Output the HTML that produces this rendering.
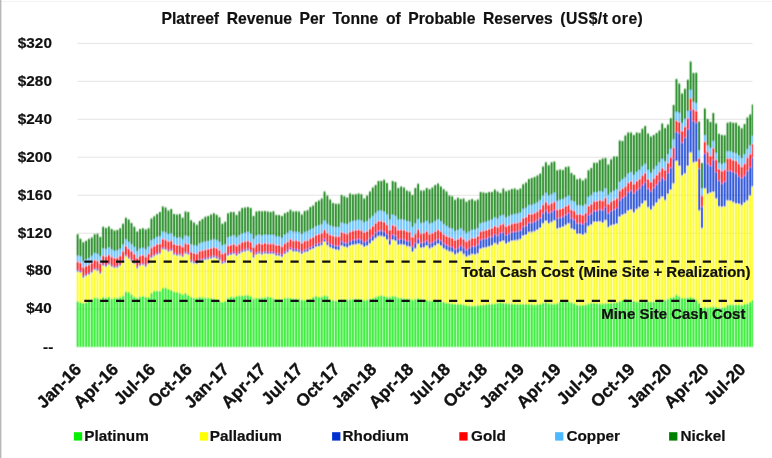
<!DOCTYPE html>
<html lang="en"><head><meta charset="utf-8"><title>Platreef Revenue Per Tonne of Probable Reserves</title>
<style>
html,body{margin:0;padding:0;background:#fff}
body{width:772px;height:458px;overflow:hidden;position:relative}
svg{position:absolute;left:0;top:0;display:block}
text{font-family:"Liberation Sans",sans-serif;font-weight:700;fill:#111;stroke:#111;stroke-width:.2px}
.ax text{font-size:15.3px}
.xl text{font-size:17.3px;stroke:#111;stroke-width:.35px}
.lg text{font-size:15.3px}
.lb text{font-size:15px}
.grid line{stroke:#e4e4e4;stroke-width:1}
</style></head><body>
<svg width="772" height="458" viewBox="0 0 772 458">
<defs><filter id="b" x="-2%" y="-2%" width="104%" height="104%"><feConvolveMatrix order="3" kernelMatrix="1 4 1 2 8 2 1 4 1" edgeMode="duplicate" preserveAlpha="false"/></filter></defs>
<rect x="0" y="0" width="772" height="458" fill="#fff"/>
<rect x="0" y="1" width="772" height="1" fill="#f3f3f3"/><rect x="0" y="0" width="1.4" height="458" fill="#b8b8b8"/>
<text x="402.4" y="24.3" text-anchor="middle" font-size="15.7" word-spacing="3.2">Platreef Revenue Per Tonne of Probable Reserves <tspan word-spacing="-1.3" letter-spacing="0.45">(US$/t ore)</tspan></text>
<g class="grid"><line x1="77.5" x2="752.6" y1="43.4" y2="43.4"/><line x1="77.5" x2="752.6" y1="81.3" y2="81.3"/><line x1="77.5" x2="752.6" y1="119.3" y2="119.3"/><line x1="77.5" x2="752.6" y1="157.2" y2="157.2"/><line x1="77.5" x2="752.6" y1="195.2" y2="195.2"/><line x1="77.5" x2="752.6" y1="233.2" y2="233.2"/><line x1="77.5" x2="752.6" y1="271.1" y2="271.1"/><line x1="77.5" x2="752.6" y1="309.1" y2="309.1"/></g>
<g class="ax"><text text-anchor="end" x="51.9" y="47.7">$320</text><text text-anchor="end" x="51.9" y="85.6">$280</text><text text-anchor="end" x="51.9" y="123.6">$240</text><text text-anchor="end" x="51.9" y="161.6">$200</text><text text-anchor="end" x="51.9" y="199.5">$160</text><text text-anchor="end" x="51.9" y="237.5">$120</text><text text-anchor="end" x="51.9" y="275.4">$80</text><text text-anchor="end" x="51.9" y="313.4">$40</text><text text-anchor="end" x="53.3" y="352.3">--</text></g>
<g class="bars" filter="url(#b)"><path fill="#0AEA0A" d="M76.77 301.3h1.70V347h-1.70zM79.61 302.2h1.70V347h-1.70zM82.45 303.1h1.70V347h-1.70zM85.28 302.2h1.70V347h-1.70zM88.12 300.8h1.70V347h-1.70zM90.96 299.6h1.70V347h-1.70zM93.80 297.5h1.70V347h-1.70zM96.64 297.8h1.70V347h-1.70zM99.47 299.1h1.70V347h-1.70zM102.31 297h1.70V347h-1.70zM105.15 297.5h1.70V347h-1.70zM107.99 297h1.70V347h-1.70zM110.83 298.4h1.70V347h-1.70zM113.66 297.8h1.70V347h-1.70zM116.50 297.8h1.70V347h-1.70zM119.34 297h1.70V347h-1.70zM122.18 295.6h1.70V347h-1.70zM125.02 291.4h1.70V347h-1.70zM127.85 292.1h1.70V347h-1.70zM130.69 294.3h1.70V347h-1.70zM133.53 296.6h1.70V347h-1.70zM136.37 297.8h1.70V347h-1.70zM139.20 296.6h1.70V347h-1.70zM142.04 296.1h1.70V347h-1.70zM144.88 297h1.70V347h-1.70zM147.72 297h1.70V347h-1.70zM150.56 293.1h1.70V347h-1.70zM153.40 290.8h1.70V347h-1.70zM156.23 290.8h1.70V347h-1.70zM159.07 290.8h1.70V347h-1.70zM161.91 287.9h1.70V347h-1.70zM164.75 287.5h1.70V347h-1.70zM167.59 289.1h1.70V347h-1.70zM170.42 290h1.70V347h-1.70zM173.26 291.4h1.70V347h-1.70zM176.10 292.1h1.70V347h-1.70zM178.94 293.1h1.70V347h-1.70zM181.78 294.3h1.70V347h-1.70zM184.61 293.1h1.70V347h-1.70zM187.45 294.9h1.70V347h-1.70zM190.29 297h1.70V347h-1.70zM193.13 297.8h1.70V347h-1.70zM195.97 297.8h1.70V347h-1.70zM198.80 297h1.70V347h-1.70zM201.64 297.3h1.70V347h-1.70zM204.48 297.6h1.70V347h-1.70zM207.32 297.8h1.70V347h-1.70zM210.16 298.1h1.70V347h-1.70zM212.99 298.4h1.70V347h-1.70zM215.83 299.6h1.70V347h-1.70zM218.67 300.8h1.70V347h-1.70zM221.51 301.9h1.70V347h-1.70zM224.34 300.8h1.70V347h-1.70zM227.18 297.8h1.70V347h-1.70zM230.02 296.6h1.70V347h-1.70zM232.86 297h1.70V347h-1.70zM235.70 296.1h1.70V347h-1.70zM238.53 295.6h1.70V347h-1.70zM241.37 295.4h1.70V347h-1.70zM244.21 295.2h1.70V347h-1.70zM247.05 294.9h1.70V347h-1.70zM249.89 296.1h1.70V347h-1.70zM252.72 298.4h1.70V347h-1.70zM255.56 297.8h1.70V347h-1.70zM258.40 297.8h1.70V347h-1.70zM261.24 297.6h1.70V347h-1.70zM264.08 297.3h1.70V347h-1.70zM266.92 296.6h1.70V347h-1.70zM269.75 297h1.70V347h-1.70zM272.59 298.4h1.70V347h-1.70zM275.43 299.1h1.70V347h-1.70zM278.27 299.1h1.70V347h-1.70zM281.11 299.1h1.70V347h-1.70zM283.94 297.8h1.70V347h-1.70zM286.78 297.8h1.70V347h-1.70zM289.62 298.1h1.70V347h-1.70zM292.46 298.4h1.70V347h-1.70zM295.30 298.5h1.70V347h-1.70zM298.13 298.7h1.70V347h-1.70zM300.97 299.4h1.70V347h-1.70zM303.81 300.1h1.70V347h-1.70zM306.65 299.6h1.70V347h-1.70zM309.49 298.7h1.70V347h-1.70zM312.32 297h1.70V347h-1.70zM315.16 296.1h1.70V347h-1.70zM318.00 297h1.70V347h-1.70zM320.84 296.6h1.70V347h-1.70zM323.68 295.2h1.70V347h-1.70zM326.51 296.1h1.70V347h-1.70zM329.35 299.5h1.70V347h-1.70zM332.19 300.1h1.70V347h-1.70zM335.03 300.6h1.70V347h-1.70zM337.87 300.1h1.70V347h-1.70zM340.70 299.5h1.70V347h-1.70zM343.54 299.5h1.70V347h-1.70zM346.38 299.5h1.70V347h-1.70zM349.22 299.2h1.70V347h-1.70zM352.06 298.8h1.70V347h-1.70zM354.89 298.8h1.70V347h-1.70zM357.73 298.8h1.70V347h-1.70zM360.57 299.5h1.70V347h-1.70zM363.41 300.1h1.70V347h-1.70zM366.25 299.5h1.70V347h-1.70zM369.08 298.8h1.70V347h-1.70zM371.92 298h1.70V347h-1.70zM374.76 297.1h1.70V347h-1.70zM377.60 295.7h1.70V347h-1.70zM380.44 295.3h1.70V347h-1.70zM383.27 296h1.70V347h-1.70zM386.11 296.6h1.70V347h-1.70zM388.95 297.1h1.70V347h-1.70zM391.79 295.7h1.70V347h-1.70zM394.62 296.2h1.70V347h-1.70zM397.46 297.4h1.70V347h-1.70zM400.30 297.9h1.70V347h-1.70zM403.14 298.3h1.70V347h-1.70zM405.98 298.6h1.70V347h-1.70zM408.81 298.8h1.70V347h-1.70zM411.65 299.5h1.70V347h-1.70zM414.49 298.8h1.70V347h-1.70zM417.33 298.3h1.70V347h-1.70zM420.17 298.9h1.70V347h-1.70zM423.00 299.5h1.70V347h-1.70zM425.84 300.1h1.70V347h-1.70zM428.68 300.6h1.70V347h-1.70zM431.52 300.6h1.70V347h-1.70zM434.36 300.6h1.70V347h-1.70zM437.19 300.9h1.70V347h-1.70zM440.03 301.3h1.70V347h-1.70zM442.87 302h1.70V347h-1.70zM445.71 302.7h1.70V347h-1.70zM448.55 303.1h1.70V347h-1.70zM451.38 303.6h1.70V347h-1.70zM454.22 303.8h1.70V347h-1.70zM457.06 304.1h1.70V347h-1.70zM459.90 304.1h1.70V347h-1.70zM462.74 304.5h1.70V347h-1.70zM465.57 304.9h1.70V347h-1.70zM468.41 305.4h1.70V347h-1.70zM471.25 305.8h1.70V347h-1.70zM474.09 305.5h1.70V347h-1.70zM476.93 305.3h1.70V347h-1.70zM479.77 304.9h1.70V347h-1.70zM482.60 304.6h1.70V347h-1.70zM485.44 304.3h1.70V347h-1.70zM488.28 304.1h1.70V347h-1.70zM491.12 303.8h1.70V347h-1.70zM493.96 303.5h1.70V347h-1.70zM496.79 302.8h1.70V347h-1.70zM499.63 302.3h1.70V347h-1.70zM502.47 302.7h1.70V347h-1.70zM505.31 303.2h1.70V347h-1.70zM508.15 303.4h1.70V347h-1.70zM510.98 303.5h1.70V347h-1.70zM513.82 303.8h1.70V347h-1.70zM516.66 304.1h1.70V347h-1.70zM519.50 304.1h1.70V347h-1.70zM522.34 304.1h1.70V347h-1.70zM525.17 304.1h1.70V347h-1.70zM528.01 304.1h1.70V347h-1.70zM530.85 304.3h1.70V347h-1.70zM533.69 304.6h1.70V347h-1.70zM536.52 304.3h1.70V347h-1.70zM539.36 304.1h1.70V347h-1.70zM542.20 302.8h1.70V347h-1.70zM545.04 302.3h1.70V347h-1.70zM547.88 303.2h1.70V347h-1.70zM550.72 303.5h1.70V347h-1.70zM553.55 304.1h1.70V347h-1.70zM556.39 303.2h1.70V347h-1.70zM559.23 301.4h1.70V347h-1.70zM562.07 301.1h1.70V347h-1.70zM564.90 301.1h1.70V347h-1.70zM567.74 301.4h1.70V347h-1.70zM570.58 302.3h1.70V347h-1.70zM573.42 303.2h1.70V347h-1.70zM576.26 304.6h1.70V347h-1.70zM579.10 305.3h1.70V347h-1.70zM581.93 304.9h1.70V347h-1.70zM584.77 304.6h1.70V347h-1.70zM587.61 303.5h1.70V347h-1.70zM590.45 302.8h1.70V347h-1.70zM593.28 303h1.70V347h-1.70zM596.12 303.2h1.70V347h-1.70zM598.96 303.4h1.70V347h-1.70zM601.80 303.6h1.70V347h-1.70zM604.64 303.3h1.70V347h-1.70zM607.48 303.1h1.70V347h-1.70zM610.31 302.8h1.70V347h-1.70zM613.15 302.6h1.70V347h-1.70zM615.99 302.3h1.70V347h-1.70zM618.83 301.2h1.70V347h-1.70zM621.66 300h1.70V347h-1.70zM624.50 298.8h1.70V347h-1.70zM627.34 299.5h1.70V347h-1.70zM630.18 300.2h1.70V347h-1.70zM633.02 300.8h1.70V347h-1.70zM635.86 301.5h1.70V347h-1.70zM638.69 301.4h1.70V347h-1.70zM641.53 301.2h1.70V347h-1.70zM644.37 301.1h1.70V347h-1.70zM647.21 301.2h1.70V347h-1.70zM650.05 301.4h1.70V347h-1.70zM652.88 301.5h1.70V347h-1.70zM655.72 301.3h1.70V347h-1.70zM658.56 301.1h1.70V347h-1.70zM661.40 300.4h1.70V347h-1.70zM664.24 299.7h1.70V347h-1.70zM667.07 298.7h1.70V347h-1.70zM669.91 297.6h1.70V347h-1.70zM672.75 297.1h1.70V347h-1.70zM675.59 294.5h1.70V347h-1.70zM678.43 296.2h1.70V347h-1.70zM681.26 298h1.70V347h-1.70zM684.10 298h1.70V347h-1.70zM686.94 297.5h1.70V347h-1.70zM689.78 297h1.70V347h-1.70zM692.62 298h1.70V347h-1.70zM695.45 299.5h1.70V347h-1.70zM698.29 303h1.70V347h-1.70zM701.13 307.5h1.70V347h-1.70zM703.97 307h1.70V347h-1.70zM706.81 307.5h1.70V347h-1.70zM709.64 307h1.70V347h-1.70zM712.48 306.5h1.70V347h-1.70zM715.32 307h1.70V347h-1.70zM718.16 307.5h1.70V347h-1.70zM721.00 307.5h1.70V347h-1.70zM723.83 307h1.70V347h-1.70zM726.67 305h1.70V347h-1.70zM729.51 304.5h1.70V347h-1.70zM732.35 304.5h1.70V347h-1.70zM735.19 304.5h1.70V347h-1.70zM738.02 304.5h1.70V347h-1.70zM740.86 305h1.70V347h-1.70zM743.70 304h1.70V347h-1.70zM746.54 303.5h1.70V347h-1.70zM749.38 302h1.70V347h-1.70zM751.79 300h1.15V347h-1.15z"/>
<path fill="#FCFC00" d="M76.77 271.6h1.70V301.3h-1.70zM79.61 272.5h1.70V302.2h-1.70zM82.45 277.4h1.70V303.1h-1.70zM85.28 276h1.70V302.2h-1.70zM88.12 274.6h1.70V300.8h-1.70zM90.96 272.5h1.70V299.6h-1.70zM93.80 269.9h1.70V297.5h-1.70zM96.64 270.7h1.70V297.8h-1.70zM99.47 273.4h1.70V299.1h-1.70zM102.31 265.5h1.70V297h-1.70zM105.15 266.4h1.70V297.5h-1.70zM107.99 264.5h1.70V297h-1.70zM110.83 266.7h1.70V298.4h-1.70zM113.66 268.1h1.70V297.8h-1.70zM116.50 267.6h1.70V297.8h-1.70zM119.34 265.8h1.70V297h-1.70zM122.18 261.4h1.70V295.6h-1.70zM125.02 256.2h1.70V291.4h-1.70zM127.85 258.8h1.70V292.1h-1.70zM130.69 261.2h1.70V294.3h-1.70zM133.53 264h1.70V296.6h-1.70zM136.37 268.3h1.70V297.8h-1.70zM139.20 265.8h1.70V296.6h-1.70zM142.04 265.1h1.70V296.1h-1.70zM144.88 266.7h1.70V297h-1.70zM147.72 264h1.70V297h-1.70zM150.56 257.9h1.70V293.1h-1.70zM153.40 256.3h1.70V290.8h-1.70zM156.23 254.5h1.70V290.8h-1.70zM159.07 253.8h1.70V290.8h-1.70zM161.91 249.2h1.70V287.9h-1.70zM164.75 250.1h1.70V287.5h-1.70zM167.59 251.8h1.70V289.1h-1.70zM170.42 251h1.70V290h-1.70zM173.26 254.5h1.70V291.4h-1.70zM176.10 255.6h1.70V292.1h-1.70zM178.94 255.3h1.70V293.1h-1.70zM181.78 257h1.70V294.3h-1.70zM184.61 253.6h1.70V293.1h-1.70zM187.45 254.4h1.70V294.9h-1.70zM190.29 262.3h1.70V297h-1.70zM193.13 263.3h1.70V297.8h-1.70zM195.97 264h1.70V297.8h-1.70zM198.80 261.5h1.70V297h-1.70zM201.64 260.5h1.70V297.3h-1.70zM204.48 259.8h1.70V297.6h-1.70zM207.32 259.3h1.70V297.8h-1.70zM210.16 258.4h1.70V298.1h-1.70zM212.99 257.6h1.70V298.4h-1.70zM215.83 258.4h1.70V299.6h-1.70zM218.67 260.2h1.70V300.8h-1.70zM221.51 263.7h1.70V301.9h-1.70zM224.34 262.8h1.70V300.8h-1.70zM227.18 255.8h1.70V297.8h-1.70zM230.02 254.9h1.70V296.6h-1.70zM232.86 254.1h1.70V297h-1.70zM235.70 255.8h1.70V296.1h-1.70zM238.53 254.1h1.70V295.6h-1.70zM241.37 252.3h1.70V295.4h-1.70zM244.21 251.4h1.70V295.2h-1.70zM247.05 250.6h1.70V294.9h-1.70zM249.89 252.3h1.70V296.1h-1.70zM252.72 257.6h1.70V298.4h-1.70zM255.56 254.6h1.70V297.8h-1.70zM258.40 253.5h1.70V297.8h-1.70zM261.24 254.6h1.70V297.6h-1.70zM264.08 253.5h1.70V297.3h-1.70zM266.92 254.1h1.70V296.6h-1.70zM269.75 254.1h1.70V297h-1.70zM272.59 254.1h1.70V298.4h-1.70zM275.43 255.8h1.70V299.1h-1.70zM278.27 255.8h1.70V299.1h-1.70zM281.11 257h1.70V299.1h-1.70zM283.94 254.1h1.70V297.8h-1.70zM286.78 252.3h1.70V297.8h-1.70zM289.62 250h1.70V298.1h-1.70zM292.46 251.4h1.70V298.4h-1.70zM295.30 251.4h1.70V298.5h-1.70zM298.13 252.3h1.70V298.7h-1.70zM300.97 254.1h1.70V299.4h-1.70zM303.81 252.3h1.70V300.1h-1.70zM306.65 251.8h1.70V299.6h-1.70zM309.49 250h1.70V298.7h-1.70zM312.32 248.8h1.70V297h-1.70zM315.16 247.1h1.70V296.1h-1.70zM318.00 246.2h1.70V297h-1.70zM320.84 245.3h1.70V296.6h-1.70zM323.68 241.8h1.70V295.2h-1.70zM326.51 245.3h1.70V296.1h-1.70zM329.35 247.6h1.70V299.5h-1.70zM332.19 248.8h1.70V300.1h-1.70zM335.03 249.8h1.70V300.6h-1.70zM337.87 250.2h1.70V300.1h-1.70zM340.70 245.8h1.70V299.5h-1.70zM343.54 247h1.70V299.5h-1.70zM346.38 247.6h1.70V299.5h-1.70zM349.22 245.8h1.70V299.2h-1.70zM352.06 244.9h1.70V298.8h-1.70zM354.89 244.6h1.70V298.8h-1.70zM357.73 244.1h1.70V298.8h-1.70zM360.57 244.9h1.70V299.5h-1.70zM363.41 247h1.70V300.1h-1.70zM366.25 245.8h1.70V299.5h-1.70zM369.08 243.5h1.70V298.8h-1.70zM371.92 241.1h1.70V298h-1.70zM374.76 238.3h1.70V297.1h-1.70zM377.60 236.2h1.70V295.7h-1.70zM380.44 236.2h1.70V295.3h-1.70zM383.27 237.1h1.70V296h-1.70zM386.11 239.7h1.70V296.6h-1.70zM388.95 244.9h1.70V297.1h-1.70zM391.79 240h1.70V295.7h-1.70zM394.62 241.1h1.70V296.2h-1.70zM397.46 244.9h1.70V297.4h-1.70zM400.30 244.6h1.70V297.9h-1.70zM403.14 244.9h1.70V298.3h-1.70zM405.98 246.3h1.70V298.6h-1.70zM408.81 246.7h1.70V298.8h-1.70zM411.65 251.9h1.70V299.5h-1.70zM414.49 248.4h1.70V298.8h-1.70zM417.33 244.1h1.70V298.3h-1.70zM420.17 248.1h1.70V298.9h-1.70zM423.00 247.6h1.70V299.5h-1.70zM425.84 245.8h1.70V300.1h-1.70zM428.68 248.4h1.70V300.6h-1.70zM431.52 247.6h1.70V300.6h-1.70zM434.36 245.8h1.70V300.6h-1.70zM437.19 244.1h1.70V300.9h-1.70zM440.03 245.8h1.70V301.3h-1.70zM442.87 248.4h1.70V302h-1.70zM445.71 250.2h1.70V302.7h-1.70zM448.55 251.6h1.70V303.1h-1.70zM451.38 252.3h1.70V303.6h-1.70zM454.22 254.5h1.70V303.8h-1.70zM457.06 253.3h1.70V304.1h-1.70zM459.90 251.6h1.70V304.1h-1.70zM462.74 254.2h1.70V304.5h-1.70zM465.57 256.9h1.70V304.9h-1.70zM468.41 255.6h1.70V305.4h-1.70zM471.25 254.2h1.70V305.8h-1.70zM474.09 254.6h1.70V305.5h-1.70zM476.93 253.4h1.70V305.3h-1.70zM479.77 249h1.70V304.9h-1.70zM482.60 248.1h1.70V304.6h-1.70zM485.44 247.6h1.70V304.3h-1.70zM488.28 246.4h1.70V304.1h-1.70zM491.12 245.5h1.70V303.8h-1.70zM493.96 243.3h1.70V303.5h-1.70zM496.79 244.5h1.70V302.8h-1.70zM499.63 241.9h1.70V302.3h-1.70zM502.47 241h1.70V302.7h-1.70zM505.31 243.7h1.70V303.2h-1.70zM508.15 242.3h1.70V303.4h-1.70zM510.98 241h1.70V303.5h-1.70zM513.82 240.5h1.70V303.8h-1.70zM516.66 240.2h1.70V304.1h-1.70zM519.50 239.3h1.70V304.1h-1.70zM522.34 235.8h1.70V304.1h-1.70zM525.17 234.9h1.70V304.1h-1.70zM528.01 232.3h1.70V304.1h-1.70zM530.85 232.3h1.70V304.3h-1.70zM533.69 231.4h1.70V304.6h-1.70zM536.52 230h1.70V304.3h-1.70zM539.36 227.9h1.70V304.1h-1.70zM542.20 223.6h1.70V302.8h-1.70zM545.04 220.9h1.70V302.3h-1.70zM547.88 223.6h1.70V303.2h-1.70zM550.72 222.3h1.70V303.5h-1.70zM553.55 220.6h1.70V304.1h-1.70zM556.39 228.8h1.70V303.2h-1.70zM559.23 227.9h1.70V301.4h-1.70zM562.07 227.1h1.70V301.1h-1.70zM564.90 225.3h1.70V301.1h-1.70zM567.74 223.6h1.70V301.4h-1.70zM570.58 228.8h1.70V302.3h-1.70zM573.42 230h1.70V303.2h-1.70zM576.26 234.1h1.70V304.6h-1.70zM579.10 234.1h1.70V305.3h-1.70zM581.93 234.9h1.70V304.9h-1.70zM584.77 233.2h1.70V304.6h-1.70zM587.61 226.2h1.70V303.5h-1.70zM590.45 224.7h1.70V302.8h-1.70zM593.28 222.1h1.70V303h-1.70zM596.12 222.1h1.70V303.2h-1.70zM598.96 221.5h1.70V303.4h-1.70zM601.80 222.9h1.70V303.6h-1.70zM604.64 220.3h1.70V303.3h-1.70zM607.48 227.3h1.70V303.1h-1.70zM610.31 225.6h1.70V302.8h-1.70zM613.15 224.7h1.70V302.6h-1.70zM615.99 223.8h1.70V302.3h-1.70zM618.83 216.8h1.70V301.2h-1.70zM621.66 215.1h1.70V300h-1.70zM624.50 213.8h1.70V298.8h-1.70zM627.34 210.7h1.70V299.5h-1.70zM630.18 209.8h1.70V300.2h-1.70zM633.02 212.4h1.70V300.8h-1.70zM635.86 209.3h1.70V301.5h-1.70zM638.69 207.2h1.70V301.4h-1.70zM641.53 203.7h1.70V301.2h-1.70zM644.37 201.1h1.70V301.1h-1.70zM647.21 207.2h1.70V301.2h-1.70zM650.05 209.8h1.70V301.4h-1.70zM652.88 206.3h1.70V301.5h-1.70zM655.72 202.8h1.70V301.3h-1.70zM658.56 199.3h1.70V301.1h-1.70zM661.40 196.7h1.70V300.4h-1.70zM664.24 200.2h1.70V299.7h-1.70zM667.07 194.1h1.70V298.7h-1.70zM669.91 189.7h1.70V297.6h-1.70zM672.75 183.6h1.70V297.1h-1.70zM675.59 160.9h1.70V294.5h-1.70zM678.43 166.1h1.70V296.2h-1.70zM681.26 175.5h1.70V298h-1.70zM684.10 173.4h1.70V298h-1.70zM686.94 165.9h1.70V297.5h-1.70zM689.78 152.6h1.70V297h-1.70zM692.62 162.6h1.70V298h-1.70zM695.45 161.7h1.70V299.5h-1.70zM698.29 210.6h1.70V303h-1.70zM701.13 228.2h1.70V307.5h-1.70zM703.97 188.5h1.70V307h-1.70zM706.81 193.9h1.70V307.5h-1.70zM709.64 192.7h1.70V307h-1.70zM712.48 192.1h1.70V306.5h-1.70zM715.32 198.5h1.70V307h-1.70zM718.16 206.4h1.70V307.5h-1.70zM721.00 207h1.70V307.5h-1.70zM723.83 206.4h1.70V307h-1.70zM726.67 200.4h1.70V305h-1.70zM729.51 201h1.70V304.5h-1.70zM732.35 202.2h1.70V304.5h-1.70zM735.19 203.4h1.70V304.5h-1.70zM738.02 204h1.70V304.5h-1.70zM740.86 205.2h1.70V305h-1.70zM743.70 202.8h1.70V304h-1.70zM746.54 200.4h1.70V303.5h-1.70zM749.38 195.6h1.70V302h-1.70zM751.79 186.6h1.15V300h-1.15z"/>
<path fill="#0030D0" d="M76.77 270.1h1.70V271.6h-1.70zM79.61 271h1.70V272.5h-1.70zM82.45 275.9h1.70V277.4h-1.70zM85.28 274.5h1.70V276h-1.70zM88.12 273.1h1.70V274.6h-1.70zM90.96 271h1.70V272.5h-1.70zM93.80 268.4h1.70V269.9h-1.70zM96.64 269.2h1.70V270.7h-1.70zM99.47 271.9h1.70V273.4h-1.70zM102.31 264h1.70V265.5h-1.70zM105.15 264.9h1.70V266.4h-1.70zM107.99 263h1.70V264.5h-1.70zM110.83 265.2h1.70V266.7h-1.70zM113.66 266.6h1.70V268.1h-1.70zM116.50 266.1h1.70V267.6h-1.70zM119.34 264.3h1.70V265.8h-1.70zM122.18 259.9h1.70V261.4h-1.70zM125.02 254.7h1.70V256.2h-1.70zM127.85 257.3h1.70V258.8h-1.70zM130.69 259.7h1.70V261.2h-1.70zM133.53 262.5h1.70V264h-1.70zM136.37 266.8h1.70V268.3h-1.70zM139.20 264.3h1.70V265.8h-1.70zM142.04 263.6h1.70V265.1h-1.70zM144.88 265.2h1.70V266.7h-1.70zM147.72 262.5h1.70V264h-1.70zM150.56 256.3h1.70V257.9h-1.70zM153.40 254.7h1.70V256.3h-1.70zM156.23 252.9h1.70V254.5h-1.70zM159.07 252.2h1.70V253.8h-1.70zM161.91 247.6h1.70V249.2h-1.70zM164.75 248.5h1.70V250.1h-1.70zM167.59 250.2h1.70V251.8h-1.70zM170.42 249.3h1.70V251h-1.70zM173.26 252.8h1.70V254.5h-1.70zM176.10 253.9h1.70V255.6h-1.70zM178.94 253.6h1.70V255.3h-1.70zM181.78 255.3h1.70V257h-1.70zM184.61 251.9h1.70V253.6h-1.70zM187.45 252.7h1.70V254.4h-1.70zM190.29 260.6h1.70V262.3h-1.70zM193.13 261.5h1.70V263.3h-1.70zM195.97 262.3h1.70V264h-1.70zM198.80 259.7h1.70V261.5h-1.70zM201.64 258.7h1.70V260.5h-1.70zM204.48 258h1.70V259.8h-1.70zM207.32 257.5h1.70V259.3h-1.70zM210.16 256.6h1.70V258.4h-1.70zM212.99 255.7h1.70V257.6h-1.70zM215.83 256.6h1.70V258.4h-1.70zM218.67 258.3h1.70V260.2h-1.70zM221.51 261.8h1.70V263.7h-1.70zM224.34 260.9h1.70V262.8h-1.70zM227.18 253.9h1.70V255.8h-1.70zM230.02 253h1.70V254.9h-1.70zM232.86 252.1h1.70V254.1h-1.70zM235.70 253.9h1.70V255.8h-1.70zM238.53 252.1h1.70V254.1h-1.70zM241.37 250.3h1.70V252.3h-1.70zM244.21 249.4h1.70V251.4h-1.70zM247.05 248.6h1.70V250.6h-1.70zM249.89 250.3h1.70V252.3h-1.70zM252.72 255.5h1.70V257.6h-1.70zM255.56 252.5h1.70V254.6h-1.70zM258.40 251.5h1.70V253.5h-1.70zM261.24 252.5h1.70V254.6h-1.70zM264.08 251.4h1.70V253.5h-1.70zM266.92 251.9h1.70V254.1h-1.70zM269.75 251.9h1.70V254.1h-1.70zM272.59 251.9h1.70V254.1h-1.70zM275.43 253.6h1.70V255.8h-1.70zM278.27 253.6h1.70V255.8h-1.70zM281.11 254.8h1.70V257h-1.70zM283.94 251.8h1.70V254.1h-1.70zM286.78 250h1.70V252.3h-1.70zM289.62 247.7h1.70V250h-1.70zM292.46 249.1h1.70V251.4h-1.70zM295.30 249h1.70V251.4h-1.70zM298.13 249.8h1.70V252.3h-1.70zM300.97 251.5h1.70V254.1h-1.70zM303.81 249.7h1.70V252.3h-1.70zM306.65 249.1h1.70V251.8h-1.70zM309.49 247.3h1.70V250h-1.70zM312.32 246h1.70V248.8h-1.70zM315.16 244.2h1.70V247.1h-1.70zM318.00 243.3h1.70V246.2h-1.70zM320.84 242.4h1.70V245.3h-1.70zM323.68 238.8h1.70V241.8h-1.70zM326.51 242h1.70V245.3h-1.70zM329.35 244h1.70V247.6h-1.70zM332.19 244.9h1.70V248.8h-1.70zM335.03 245.7h1.70V249.8h-1.70zM337.87 245.8h1.70V250.2h-1.70zM340.70 241.3h1.70V245.8h-1.70zM343.54 242.5h1.70V247h-1.70zM346.38 242.9h1.70V247.6h-1.70zM349.22 241.1h1.70V245.8h-1.70zM352.06 240.1h1.70V244.9h-1.70zM354.89 239.7h1.70V244.6h-1.70zM357.73 239.1h1.70V244.1h-1.70zM360.57 239.9h1.70V244.9h-1.70zM363.41 241.9h1.70V247h-1.70zM366.25 240.6h1.70V245.8h-1.70zM369.08 238.3h1.70V243.5h-1.70zM371.92 235.7h1.70V241.1h-1.70zM374.76 232.8h1.70V238.3h-1.70zM377.60 230.7h1.70V236.2h-1.70zM380.44 230.6h1.70V236.2h-1.70zM383.27 231.5h1.70V237.1h-1.70zM386.11 234.1h1.70V239.7h-1.70zM388.95 239.4h1.70V244.9h-1.70zM391.79 234.5h1.70V240h-1.70zM394.62 235.6h1.70V241.1h-1.70zM397.46 239.5h1.70V244.9h-1.70zM400.30 239.1h1.70V244.6h-1.70zM403.14 239.5h1.70V244.9h-1.70zM405.98 240.9h1.70V246.3h-1.70zM408.81 241.3h1.70V246.7h-1.70zM411.65 246.5h1.70V251.9h-1.70zM414.49 243.1h1.70V248.4h-1.70zM417.33 238.7h1.70V244.1h-1.70zM420.17 242.8h1.70V248.1h-1.70zM423.00 242.3h1.70V247.6h-1.70zM425.84 240.5h1.70V245.8h-1.70zM428.68 243.2h1.70V248.4h-1.70zM431.52 242.3h1.70V247.6h-1.70zM434.36 240.6h1.70V245.8h-1.70zM437.19 238.9h1.70V244.1h-1.70zM440.03 240.6h1.70V245.8h-1.70zM442.87 243.2h1.70V248.4h-1.70zM445.71 244.9h1.70V250.2h-1.70zM448.55 246.3h1.70V251.6h-1.70zM451.38 247h1.70V252.3h-1.70zM454.22 249.3h1.70V254.5h-1.70zM457.06 248h1.70V253.3h-1.70zM459.90 245.6h1.70V251.6h-1.70zM462.74 247.4h1.70V254.2h-1.70zM465.57 249.7h1.70V256.9h-1.70zM468.41 248h1.70V255.6h-1.70zM471.25 246.2h1.70V254.2h-1.70zM474.09 246.2h1.70V254.6h-1.70zM476.93 244.6h1.70V253.4h-1.70zM479.77 239.8h1.70V249h-1.70zM482.60 239h1.70V248.1h-1.70zM485.44 238.5h1.70V247.6h-1.70zM488.28 237.3h1.70V246.4h-1.70zM491.12 236.5h1.70V245.5h-1.70zM493.96 234.3h1.70V243.3h-1.70zM496.79 235.6h1.70V244.5h-1.70zM499.63 233h1.70V241.9h-1.70zM502.47 232.2h1.70V241h-1.70zM505.31 234.9h1.70V243.7h-1.70zM508.15 233.5h1.70V242.3h-1.70zM510.98 232.3h1.70V241h-1.70zM513.82 231.7h1.70V240.5h-1.70zM516.66 231.2h1.70V240.2h-1.70zM519.50 230.2h1.70V239.3h-1.70zM522.34 226.5h1.70V235.8h-1.70zM525.17 225.5h1.70V234.9h-1.70zM528.01 222.7h1.70V232.3h-1.70zM530.85 222.6h1.70V232.3h-1.70zM533.69 221.5h1.70V231.4h-1.70zM536.52 220h1.70V230h-1.70zM539.36 217.7h1.70V227.9h-1.70zM542.20 213.2h1.70V223.6h-1.70zM545.04 210.4h1.70V220.9h-1.70zM547.88 213.1h1.70V223.6h-1.70zM550.72 211.8h1.70V222.3h-1.70zM553.55 210.1h1.70V220.6h-1.70zM556.39 218.3h1.70V228.8h-1.70zM559.23 217.4h1.70V227.9h-1.70zM562.07 216.6h1.70V227.1h-1.70zM564.90 214.8h1.70V225.3h-1.70zM567.74 213.1h1.70V223.6h-1.70zM570.58 218.2h1.70V228.8h-1.70zM573.42 219.4h1.70V230h-1.70zM576.26 223.3h1.70V234.1h-1.70zM579.10 223.2h1.70V234.1h-1.70zM581.93 224h1.70V234.9h-1.70zM584.77 222.1h1.70V233.2h-1.70zM587.61 215.1h1.70V226.2h-1.70zM590.45 213.5h1.70V224.7h-1.70zM593.28 210.8h1.70V222.1h-1.70zM596.12 210.7h1.70V222.1h-1.70zM598.96 209.5h1.70V221.5h-1.70zM601.80 210.2h1.70V222.9h-1.70zM604.64 207h1.70V220.3h-1.70zM607.48 213.3h1.70V227.3h-1.70zM610.31 210.9h1.70V225.6h-1.70zM613.15 209.4h1.70V224.7h-1.70zM615.99 207.9h1.70V223.8h-1.70zM618.83 200.2h1.70V216.8h-1.70zM621.66 197.8h1.70V215.1h-1.70zM624.50 195.9h1.70V213.8h-1.70zM627.34 192.1h1.70V210.7h-1.70zM630.18 190.6h1.70V209.8h-1.70zM633.02 193.3h1.70V212.4h-1.70zM635.86 190.3h1.70V209.3h-1.70zM638.69 188.3h1.70V207.2h-1.70zM641.53 184.9h1.70V203.7h-1.70zM644.37 182.3h1.70V201.1h-1.70zM647.21 188.5h1.70V207.2h-1.70zM650.05 191.3h1.70V209.8h-1.70zM652.88 187.8h1.70V206.3h-1.70zM655.72 184.4h1.70V202.8h-1.70zM658.56 181h1.70V199.3h-1.70zM661.40 177.5h1.70V196.7h-1.70zM664.24 180.1h1.70V200.2h-1.70zM667.07 173h1.70V194.1h-1.70zM669.91 167.7h1.70V189.7h-1.70zM672.75 158.6h1.70V183.6h-1.70zM675.59 131.9h1.70V160.9h-1.70zM678.43 133.2h1.70V166.1h-1.70zM681.26 142.4h1.70V175.5h-1.70zM684.10 137.6h1.70V173.4h-1.70zM686.94 129.2h1.70V165.9h-1.70zM689.78 110.2h1.70V152.6h-1.70zM692.62 121h1.70V162.6h-1.70zM695.45 122.4h1.70V161.7h-1.70zM698.29 168.4h1.70V210.6h-1.70zM701.13 206.4h1.70V228.2h-1.70zM703.97 153.6h1.70V188.5h-1.70zM706.81 163.6h1.70V193.9h-1.70zM709.64 166h1.70V192.7h-1.70zM712.48 160h1.70V192.1h-1.70zM715.32 172h1.70V198.5h-1.70zM718.16 180.4h1.70V206.4h-1.70zM721.00 183.4h1.70V207h-1.70zM723.83 181.6h1.70V206.4h-1.70zM726.67 170.8h1.70V200.4h-1.70zM729.51 170.8h1.70V201h-1.70zM732.35 172h1.70V202.2h-1.70zM735.19 173.2h1.70V203.4h-1.70zM738.02 176.2h1.70V204h-1.70zM740.86 178h1.70V205.2h-1.70zM743.70 175.6h1.70V202.8h-1.70zM746.54 170.8h1.70V200.4h-1.70zM749.38 167.2h1.70V195.6h-1.70zM751.79 157.6h1.15V186.6h-1.15z"/>
<path fill="#FA0505" d="M76.77 261.5h1.70V270.1h-1.70zM79.61 262.4h1.70V271h-1.70zM82.45 267.3h1.70V275.9h-1.70zM85.28 265.9h1.70V274.5h-1.70zM88.12 264.5h1.70V273.1h-1.70zM90.96 262.4h1.70V271h-1.70zM93.80 259.8h1.70V268.4h-1.70zM96.64 260.6h1.70V269.2h-1.70zM99.47 263.2h1.70V271.9h-1.70zM102.31 255.4h1.70V264h-1.70zM105.15 256.2h1.70V264.9h-1.70zM107.99 254.4h1.70V263h-1.70zM110.83 256.5h1.70V265.2h-1.70zM113.66 257.9h1.70V266.6h-1.70zM116.50 257.4h1.70V266.1h-1.70zM119.34 255.6h1.70V264.3h-1.70zM122.18 251.3h1.70V259.9h-1.70zM125.02 246h1.70V254.7h-1.70zM127.85 248.6h1.70V257.3h-1.70zM130.69 251h1.70V259.7h-1.70zM133.53 253.7h1.70V262.5h-1.70zM136.37 258h1.70V266.8h-1.70zM139.20 255.5h1.70V264.3h-1.70zM142.04 254.8h1.70V263.6h-1.70zM144.88 256.4h1.70V265.2h-1.70zM147.72 253.6h1.70V262.5h-1.70zM150.56 247.5h1.70V256.3h-1.70zM153.40 245.8h1.70V254.7h-1.70zM156.23 244h1.70V252.9h-1.70zM159.07 243.4h1.70V252.2h-1.70zM161.91 238.7h1.70V247.6h-1.70zM164.75 239.6h1.70V248.5h-1.70zM167.59 241.3h1.70V250.2h-1.70zM170.42 240.5h1.70V249.3h-1.70zM173.26 244h1.70V252.8h-1.70zM176.10 245.1h1.70V253.9h-1.70zM178.94 244.8h1.70V253.6h-1.70zM181.78 246.6h1.70V255.3h-1.70zM184.61 243.2h1.70V251.9h-1.70zM187.45 244h1.70V252.7h-1.70zM190.29 251.9h1.70V260.6h-1.70zM193.13 252.9h1.70V261.5h-1.70zM195.97 253.6h1.70V262.3h-1.70zM198.80 251.1h1.70V259.7h-1.70zM201.64 250.2h1.70V258.7h-1.70zM204.48 249.5h1.70V258h-1.70zM207.32 249h1.70V257.5h-1.70zM210.16 248.1h1.70V256.6h-1.70zM212.99 247.2h1.70V255.7h-1.70zM215.83 248.1h1.70V256.6h-1.70zM218.67 249.9h1.70V258.3h-1.70zM221.51 253.4h1.70V261.8h-1.70zM224.34 252.5h1.70V260.9h-1.70zM227.18 245.5h1.70V253.9h-1.70zM230.02 244.7h1.70V253h-1.70zM232.86 243.8h1.70V252.1h-1.70zM235.70 245.6h1.70V253.9h-1.70zM238.53 243.8h1.70V252.1h-1.70zM241.37 242.1h1.70V250.3h-1.70zM244.21 241.2h1.70V249.4h-1.70zM247.05 240.4h1.70V248.6h-1.70zM249.89 242.1h1.70V250.3h-1.70zM252.72 247.3h1.70V255.5h-1.70zM255.56 244.2h1.70V252.5h-1.70zM258.40 243.1h1.70V251.5h-1.70zM261.24 244.1h1.70V252.5h-1.70zM264.08 243.1h1.70V251.4h-1.70zM266.92 243.5h1.70V251.9h-1.70zM269.75 243.5h1.70V251.9h-1.70zM272.59 243.4h1.70V251.9h-1.70zM275.43 245.1h1.70V253.6h-1.70zM278.27 245.1h1.70V253.6h-1.70zM281.11 246.3h1.70V254.8h-1.70zM283.94 243.2h1.70V251.8h-1.70zM286.78 241.5h1.70V250h-1.70zM289.62 239.1h1.70V247.7h-1.70zM292.46 240.4h1.70V249.1h-1.70zM295.30 240.3h1.70V249h-1.70zM298.13 241.1h1.70V249.8h-1.70zM300.97 242.7h1.70V251.5h-1.70zM303.81 240.8h1.70V249.7h-1.70zM306.65 240.2h1.70V249.1h-1.70zM309.49 238.3h1.70V247.3h-1.70zM312.32 237h1.70V246h-1.70zM315.16 235.1h1.70V244.2h-1.70zM318.00 234.1h1.70V243.3h-1.70zM320.84 233.1h1.70V242.4h-1.70zM323.68 229.5h1.70V238.8h-1.70zM326.51 232.7h1.70V242h-1.70zM329.35 234.6h1.70V244h-1.70zM332.19 235.6h1.70V244.9h-1.70zM335.03 236.3h1.70V245.7h-1.70zM337.87 236.3h1.70V245.8h-1.70zM340.70 231.9h1.70V241.3h-1.70zM343.54 233h1.70V242.5h-1.70zM346.38 233.4h1.70V242.9h-1.70zM349.22 231.6h1.70V241.1h-1.70zM352.06 230.6h1.70V240.1h-1.70zM354.89 230.1h1.70V239.7h-1.70zM357.73 229.5h1.70V239.1h-1.70zM360.57 230.3h1.70V239.9h-1.70zM363.41 232.3h1.70V241.9h-1.70zM366.25 230.9h1.70V240.6h-1.70zM369.08 228.6h1.70V238.3h-1.70zM371.92 226h1.70V235.7h-1.70zM374.76 223.1h1.70V232.8h-1.70zM377.60 220.9h1.70V230.7h-1.70zM380.44 220.8h1.70V230.6h-1.70zM383.27 221.7h1.70V231.5h-1.70zM386.11 224.4h1.70V234.1h-1.70zM388.95 229.7h1.70V239.4h-1.70zM391.79 224.8h1.70V234.5h-1.70zM394.62 225.9h1.70V235.6h-1.70zM397.46 229.8h1.70V239.5h-1.70zM400.30 229.5h1.70V239.1h-1.70zM403.14 229.9h1.70V239.5h-1.70zM405.98 231.3h1.70V240.9h-1.70zM408.81 231.7h1.70V241.3h-1.70zM411.65 237h1.70V246.5h-1.70zM414.49 233.6h1.70V243.1h-1.70zM417.33 229.2h1.70V238.7h-1.70zM420.17 233.3h1.70V242.8h-1.70zM423.00 232.8h1.70V242.3h-1.70zM425.84 231.1h1.70V240.5h-1.70zM428.68 233.8h1.70V243.2h-1.70zM431.52 233h1.70V242.3h-1.70zM434.36 231.3h1.70V240.6h-1.70zM437.19 229.6h1.70V238.9h-1.70zM440.03 231.3h1.70V240.6h-1.70zM442.87 234h1.70V243.2h-1.70zM445.71 235.7h1.70V244.9h-1.70zM448.55 237.1h1.70V246.3h-1.70zM451.38 237.8h1.70V247h-1.70zM454.22 240.1h1.70V249.3h-1.70zM457.06 238.9h1.70V248h-1.70zM459.90 236.8h1.70V245.6h-1.70zM462.74 238.9h1.70V247.4h-1.70zM465.57 241.2h1.70V249.7h-1.70zM468.41 239.5h1.70V248h-1.70zM471.25 237.7h1.70V246.2h-1.70zM474.09 237.7h1.70V246.2h-1.70zM476.93 236.1h1.70V244.6h-1.70zM479.77 231.3h1.70V239.8h-1.70zM482.60 230.4h1.70V239h-1.70zM485.44 229.9h1.70V238.5h-1.70zM488.28 228.7h1.70V237.3h-1.70zM491.12 227.9h1.70V236.5h-1.70zM493.96 225.8h1.70V234.3h-1.70zM496.79 227h1.70V235.6h-1.70zM499.63 224.4h1.70V233h-1.70zM502.47 223.6h1.70V232.2h-1.70zM505.31 226.2h1.70V234.9h-1.70zM508.15 224.8h1.70V233.5h-1.70zM510.98 223.6h1.70V232.3h-1.70zM513.82 223h1.70V231.7h-1.70zM516.66 222.5h1.70V231.2h-1.70zM519.50 221.5h1.70V230.2h-1.70zM522.34 217.8h1.70V226.5h-1.70zM525.17 216.8h1.70V225.5h-1.70zM528.01 214h1.70V222.7h-1.70zM530.85 213.9h1.70V222.6h-1.70zM533.69 212.8h1.70V221.5h-1.70zM536.52 211.3h1.70V220h-1.70zM539.36 209h1.70V217.7h-1.70zM542.20 204.5h1.70V213.2h-1.70zM545.04 201.7h1.70V210.4h-1.70zM547.88 204.4h1.70V213.1h-1.70zM550.72 203.1h1.70V211.8h-1.70zM553.55 201.4h1.70V210.1h-1.70zM556.39 209.6h1.70V218.3h-1.70zM559.23 208.7h1.70V217.4h-1.70zM562.07 207.9h1.70V216.6h-1.70zM564.90 206.1h1.70V214.8h-1.70zM567.74 204.4h1.70V213.1h-1.70zM570.58 209.4h1.70V218.2h-1.70zM573.42 210.5h1.70V219.4h-1.70zM576.26 214.3h1.70V223.3h-1.70zM579.10 214.1h1.70V223.2h-1.70zM581.93 214.8h1.70V224h-1.70zM584.77 212.9h1.70V222.1h-1.70zM587.61 205.7h1.70V215.1h-1.70zM590.45 204h1.70V213.5h-1.70zM593.28 201.2h1.70V210.8h-1.70zM596.12 201.1h1.70V210.7h-1.70zM598.96 199.9h1.70V209.5h-1.70zM601.80 200.6h1.70V210.2h-1.70zM604.64 197.4h1.70V207h-1.70zM607.48 203.7h1.70V213.3h-1.70zM610.31 201.3h1.70V210.9h-1.70zM613.15 199.8h1.70V209.4h-1.70zM615.99 198.3h1.70V207.9h-1.70zM618.83 190.6h1.70V200.2h-1.70zM621.66 188.2h1.70V197.8h-1.70zM624.50 186.3h1.70V195.9h-1.70zM627.34 182.5h1.70V192.1h-1.70zM630.18 181h1.70V190.6h-1.70zM633.02 183.7h1.70V193.3h-1.70zM635.86 180.7h1.70V190.3h-1.70zM638.69 178.7h1.70V188.3h-1.70zM641.53 175.3h1.70V184.9h-1.70zM644.37 172.7h1.70V182.3h-1.70zM647.21 178.9h1.70V188.5h-1.70zM650.05 181.7h1.70V191.3h-1.70zM652.88 178.2h1.70V187.8h-1.70zM655.72 174.8h1.70V184.4h-1.70zM658.56 171.4h1.70V181h-1.70zM661.40 167.7h1.70V177.5h-1.70zM664.24 170h1.70V180.1h-1.70zM667.07 162.7h1.70V173h-1.70zM669.91 157.2h1.70V167.7h-1.70zM672.75 147.6h1.70V158.6h-1.70zM675.59 120.6h1.70V131.9h-1.70zM678.43 121.9h1.70V133.2h-1.70zM681.26 131h1.70V142.4h-1.70zM684.10 126.6h1.70V137.6h-1.70zM686.94 118.2h1.70V129.2h-1.70zM689.78 98.3h1.70V110.2h-1.70zM692.62 109.3h1.70V121h-1.70zM695.45 110.7h1.70V122.4h-1.70zM698.29 158.2h1.70V168.4h-1.70zM701.13 195.6h1.70V206.4h-1.70zM703.97 141.5h1.70V153.6h-1.70zM706.81 151.6h1.70V163.6h-1.70zM709.64 155.8h1.70V166h-1.70zM712.48 148.1h1.70V160h-1.70zM715.32 159.4h1.70V172h-1.70zM718.16 169h1.70V180.4h-1.70zM721.00 170.8h1.70V183.4h-1.70zM723.83 169.6h1.70V181.6h-1.70zM726.67 158.2h1.70V170.8h-1.70zM729.51 158.2h1.70V170.8h-1.70zM732.35 160h1.70V172h-1.70zM735.19 160.6h1.70V173.2h-1.70zM738.02 163.6h1.70V176.2h-1.70zM740.86 166.6h1.70V178h-1.70zM743.70 163.6h1.70V175.6h-1.70zM746.54 157.6h1.70V170.8h-1.70zM749.38 154h1.70V167.2h-1.70zM751.79 143.8h1.15V157.6h-1.15z"/>
<path fill="#4DB8FF" d="M76.77 255.8h1.70V261.5h-1.70zM79.61 256.6h1.70V262.4h-1.70zM82.45 261.3h1.70V267.3h-1.70zM85.28 259.8h1.70V265.9h-1.70zM88.12 258.3h1.70V264.5h-1.70zM90.96 256h1.70V262.4h-1.70zM93.80 253.3h1.70V259.8h-1.70zM96.64 254h1.70V260.6h-1.70zM99.47 256.5h1.70V263.2h-1.70zM102.31 248.5h1.70V255.4h-1.70zM105.15 249.2h1.70V256.2h-1.70zM107.99 247.4h1.70V254.4h-1.70zM110.83 249.6h1.70V256.5h-1.70zM113.66 251.1h1.70V257.9h-1.70zM116.50 250.6h1.70V257.4h-1.70zM119.34 248.9h1.70V255.6h-1.70zM122.18 244.6h1.70V251.3h-1.70zM125.02 239.4h1.70V246h-1.70zM127.85 241.9h1.70V248.6h-1.70zM130.69 244.3h1.70V251h-1.70zM133.53 247.1h1.70V253.7h-1.70zM136.37 251.3h1.70V258h-1.70zM139.20 248.7h1.70V255.5h-1.70zM142.04 248h1.70V254.8h-1.70zM144.88 249.5h1.70V256.4h-1.70zM147.72 246.8h1.70V253.6h-1.70zM150.56 240.6h1.70V247.5h-1.70zM153.40 238.9h1.70V245.8h-1.70zM156.23 237.1h1.70V244h-1.70zM159.07 236.4h1.70V243.4h-1.70zM161.91 231.7h1.70V238.7h-1.70zM164.75 232.6h1.70V239.6h-1.70zM167.59 234.2h1.70V241.3h-1.70zM170.42 233.4h1.70V240.5h-1.70zM173.26 236.8h1.70V244h-1.70zM176.10 237.9h1.70V245.1h-1.70zM178.94 237.6h1.70V244.8h-1.70zM181.78 239.3h1.70V246.6h-1.70zM184.61 235.8h1.70V243.2h-1.70zM187.45 236.6h1.70V244h-1.70zM190.29 244.5h1.70V251.9h-1.70zM193.13 245.4h1.70V252.9h-1.70zM195.97 246.1h1.70V253.6h-1.70zM198.80 243.5h1.70V251.1h-1.70zM201.64 242.5h1.70V250.2h-1.70zM204.48 241.8h1.70V249.5h-1.70zM207.32 241.2h1.70V249h-1.70zM210.16 240.3h1.70V248.1h-1.70zM212.99 239.4h1.70V247.2h-1.70zM215.83 240.2h1.70V248.1h-1.70zM218.67 241.9h1.70V249.9h-1.70zM221.51 245.4h1.70V253.4h-1.70zM224.34 244.5h1.70V252.5h-1.70zM227.18 237.5h1.70V245.5h-1.70zM230.02 236.6h1.70V244.7h-1.70zM232.86 235.6h1.70V243.8h-1.70zM235.70 237.4h1.70V245.6h-1.70zM238.53 235.6h1.70V243.8h-1.70zM241.37 233.8h1.70V242.1h-1.70zM244.21 232.9h1.70V241.2h-1.70zM247.05 232h1.70V240.4h-1.70zM249.89 233.7h1.70V242.1h-1.70zM252.72 238.9h1.70V247.3h-1.70zM255.56 235.8h1.70V244.2h-1.70zM258.40 234.7h1.70V243.1h-1.70zM261.24 235.7h1.70V244.1h-1.70zM264.08 234.7h1.70V243.1h-1.70zM266.92 235.1h1.70V243.5h-1.70zM269.75 235.1h1.70V243.5h-1.70zM272.59 235h1.70V243.4h-1.70zM275.43 236.7h1.70V245.1h-1.70zM278.27 236.7h1.70V245.1h-1.70zM281.11 237.9h1.70V246.3h-1.70zM283.94 234.8h1.70V243.2h-1.70zM286.78 233.1h1.70V241.5h-1.70zM289.62 230.7h1.70V239.1h-1.70zM292.46 232h1.70V240.4h-1.70zM295.30 231.9h1.70V240.3h-1.70zM298.13 232.6h1.70V241.1h-1.70zM300.97 234.2h1.70V242.7h-1.70zM303.81 232.3h1.70V240.8h-1.70zM306.65 231.6h1.70V240.2h-1.70zM309.49 229.7h1.70V238.3h-1.70zM312.32 228.4h1.70V237h-1.70zM315.16 226.5h1.70V235.1h-1.70zM318.00 225.5h1.70V234.1h-1.70zM320.84 224.5h1.70V233.1h-1.70zM323.68 220.8h1.70V229.5h-1.70zM326.51 223.9h1.70V232.7h-1.70zM329.35 225.8h1.70V234.6h-1.70zM332.19 226.7h1.70V235.6h-1.70zM335.03 227.3h1.70V236.3h-1.70zM337.87 227.3h1.70V236.3h-1.70zM340.70 222.8h1.70V231.9h-1.70zM343.54 223.8h1.70V233h-1.70zM346.38 224.2h1.70V233.4h-1.70zM349.22 222.3h1.70V231.6h-1.70zM352.06 221.2h1.70V230.6h-1.70zM354.89 220.7h1.70V230.1h-1.70zM357.73 220h1.70V229.5h-1.70zM360.57 220.7h1.70V230.3h-1.70zM363.41 222.6h1.70V232.3h-1.70zM366.25 221.3h1.70V230.9h-1.70zM369.08 218.8h1.70V228.6h-1.70zM371.92 216.2h1.70V226h-1.70zM374.76 213.2h1.70V223.1h-1.70zM377.60 211h1.70V220.9h-1.70zM380.44 210.8h1.70V220.8h-1.70zM383.27 211.7h1.70V221.7h-1.70zM386.11 214.4h1.70V224.4h-1.70zM388.95 219.7h1.70V229.7h-1.70zM391.79 214.8h1.70V224.8h-1.70zM394.62 215.9h1.70V225.9h-1.70zM397.46 219.8h1.70V229.8h-1.70zM400.30 219.5h1.70V229.5h-1.70zM403.14 219.9h1.70V229.9h-1.70zM405.98 221.3h1.70V231.3h-1.70zM408.81 221.7h1.70V231.7h-1.70zM411.65 227h1.70V237h-1.70zM414.49 223.6h1.70V233.6h-1.70zM417.33 219.2h1.70V229.2h-1.70zM420.17 223.3h1.70V233.3h-1.70zM423.00 222.8h1.70V232.8h-1.70zM425.84 221.1h1.70V231.1h-1.70zM428.68 223.8h1.70V233.8h-1.70zM431.52 223h1.70V233h-1.70zM434.36 221.3h1.70V231.3h-1.70zM437.19 219.6h1.70V229.6h-1.70zM440.03 221.5h1.70V231.3h-1.70zM442.87 224.3h1.70V234h-1.70zM445.71 226.3h1.70V235.7h-1.70zM448.55 227.9h1.70V237.1h-1.70zM451.38 228.8h1.70V237.8h-1.70zM454.22 231.2h1.70V240.1h-1.70zM457.06 230.2h1.70V238.9h-1.70zM459.90 228.5h1.70V236.8h-1.70zM462.74 231h1.70V238.9h-1.70zM465.57 233.3h1.70V241.2h-1.70zM468.41 231.7h1.70V239.5h-1.70zM471.25 229.9h1.70V237.7h-1.70zM474.09 229.8h1.70V237.7h-1.70zM476.93 228.2h1.70V236.1h-1.70zM479.77 223.5h1.70V231.3h-1.70zM482.60 222.6h1.70V230.4h-1.70zM485.44 222h1.70V229.9h-1.70zM488.28 220.7h1.70V228.7h-1.70zM491.12 219.8h1.70V227.9h-1.70zM493.96 217.5h1.70V225.8h-1.70zM496.79 218.7h1.70V227h-1.70zM499.63 216h1.70V224.4h-1.70zM502.47 215.1h1.70V223.6h-1.70zM505.31 217.7h1.70V226.2h-1.70zM508.15 216.2h1.70V224.8h-1.70zM510.98 214.9h1.70V223.6h-1.70zM513.82 214.3h1.70V223h-1.70zM516.66 213.8h1.70V222.5h-1.70zM519.50 212.8h1.70V221.5h-1.70zM522.34 209.1h1.70V217.8h-1.70zM525.17 208.1h1.70V216.8h-1.70zM528.01 205.3h1.70V214h-1.70zM530.85 205.2h1.70V213.9h-1.70zM533.69 204.1h1.70V212.8h-1.70zM536.52 202.6h1.70V211.3h-1.70zM539.36 200.3h1.70V209h-1.70zM542.20 195.8h1.70V204.5h-1.70zM545.04 193h1.70V201.7h-1.70zM547.88 195.7h1.70V204.4h-1.70zM550.72 194.4h1.70V203.1h-1.70zM553.55 192.7h1.70V201.4h-1.70zM556.39 200.9h1.70V209.6h-1.70zM559.23 200h1.70V208.7h-1.70zM562.07 199.2h1.70V207.9h-1.70zM564.90 197.4h1.70V206.1h-1.70zM567.74 195.7h1.70V204.4h-1.70zM570.58 200.7h1.70V209.4h-1.70zM573.42 201.8h1.70V210.5h-1.70zM576.26 205.6h1.70V214.3h-1.70zM579.10 205.4h1.70V214.1h-1.70zM581.93 206.1h1.70V214.8h-1.70zM584.77 204.2h1.70V212.9h-1.70zM587.61 197h1.70V205.7h-1.70zM590.45 195.3h1.70V204h-1.70zM593.28 192.5h1.70V201.2h-1.70zM596.12 192.4h1.70V201.1h-1.70zM598.96 191.2h1.70V199.9h-1.70zM601.80 191.9h1.70V200.6h-1.70zM604.64 188.6h1.70V197.4h-1.70zM607.48 195h1.70V203.7h-1.70zM610.31 192.6h1.70V201.3h-1.70zM613.15 191h1.70V199.8h-1.70zM615.99 189.5h1.70V198.3h-1.70zM618.83 181.9h1.70V190.6h-1.70zM621.66 179.4h1.70V188.2h-1.70zM624.50 177.6h1.70V186.3h-1.70zM627.34 173.8h1.70V182.5h-1.70zM630.18 172.2h1.70V181h-1.70zM633.02 174.9h1.70V183.7h-1.70zM635.86 171.9h1.70V180.7h-1.70zM638.69 169.9h1.70V178.7h-1.70zM641.53 166.5h1.70V175.3h-1.70zM644.37 163.9h1.70V172.7h-1.70zM647.21 170.1h1.70V178.9h-1.70zM650.05 172.9h1.70V181.7h-1.70zM652.88 169.4h1.70V178.2h-1.70zM655.72 166h1.70V174.8h-1.70zM658.56 162.6h1.70V171.4h-1.70zM661.40 159h1.70V167.7h-1.70zM664.24 161.5h1.70V170h-1.70zM667.07 154.4h1.70V162.7h-1.70zM669.91 149h1.70V157.2h-1.70zM672.75 139.6h1.70V147.6h-1.70zM675.59 112h1.70V120.6h-1.70zM678.43 112.9h1.70V121.9h-1.70zM681.26 123h1.70V131h-1.70zM684.10 119h1.70V126.6h-1.70zM686.94 111.1h1.70V118.2h-1.70zM689.78 90h1.70V98.3h-1.70zM692.62 101.9h1.70V109.3h-1.70zM695.45 103.2h1.70V110.7h-1.70zM698.29 150.6h1.70V158.2h-1.70zM701.13 188.4h1.70V195.6h-1.70zM703.97 135.2h1.70V141.5h-1.70zM706.81 145.5h1.70V151.6h-1.70zM709.64 148h1.70V155.8h-1.70zM712.48 141h1.70V148.1h-1.70zM715.32 153h1.70V159.4h-1.70zM718.16 163h1.70V169h-1.70zM721.00 164.2h1.70V170.8h-1.70zM723.83 163h1.70V169.6h-1.70zM726.67 151.6h1.70V158.2h-1.70zM729.51 151.6h1.70V158.2h-1.70zM732.35 152.8h1.70V160h-1.70zM735.19 153.4h1.70V160.6h-1.70zM738.02 155.8h1.70V163.6h-1.70zM740.86 158.2h1.70V166.6h-1.70zM743.70 154.6h1.70V163.6h-1.70zM746.54 149.2h1.70V157.6h-1.70zM749.38 145.6h1.70V154h-1.70zM751.79 136h1.15V143.8h-1.15z"/>
<path fill="#007800" d="M76.77 234.3h1.70V255.8h-1.70zM79.61 238.7h1.70V256.6h-1.70zM82.45 242.2h1.70V261.3h-1.70zM85.28 240.8h1.70V259.8h-1.70zM88.12 238.7h1.70V258.3h-1.70zM90.96 237.5h1.70V256h-1.70zM93.80 234.3h1.70V253.3h-1.70zM96.64 233.8h1.70V254h-1.70zM99.47 237h1.70V256.5h-1.70zM102.31 226.8h1.70V248.5h-1.70zM105.15 227.9h1.70V249.2h-1.70zM107.99 226.5h1.70V247.4h-1.70zM110.83 229.1h1.70V249.6h-1.70zM113.66 230.5h1.70V251.1h-1.70zM116.50 230h1.70V250.6h-1.70zM119.34 228.2h1.70V248.9h-1.70zM122.18 223.8h1.70V244.6h-1.70zM125.02 217.7h1.70V239.4h-1.70zM127.85 219.5h1.70V241.9h-1.70zM130.69 223h1.70V244.3h-1.70zM133.53 226.8h1.70V247.1h-1.70zM136.37 231.4h1.70V251.3h-1.70zM139.20 229.1h1.70V248.7h-1.70zM142.04 228.2h1.70V248h-1.70zM144.88 229.6h1.70V249.5h-1.70zM147.72 228.2h1.70V246.8h-1.70zM150.56 218.6h1.70V240.6h-1.70zM153.40 216.3h1.70V238.9h-1.70zM156.23 213.9h1.70V237.1h-1.70zM159.07 212.1h1.70V236.4h-1.70zM161.91 206.4h1.70V231.7h-1.70zM164.75 207.6h1.70V232.6h-1.70zM167.59 210.4h1.70V234.2h-1.70zM170.42 209h1.70V233.4h-1.70zM173.26 213.9h1.70V236.8h-1.70zM176.10 214.6h1.70V237.9h-1.70zM178.94 213.9h1.70V237.6h-1.70zM181.78 217.7h1.70V239.3h-1.70zM184.61 211.6h1.70V235.8h-1.70zM187.45 212.1h1.70V236.6h-1.70zM190.29 220.3h1.70V244.5h-1.70zM193.13 222.6h1.70V245.4h-1.70zM195.97 224.7h1.70V246.1h-1.70zM198.80 220.9h1.70V243.5h-1.70zM201.64 219.1h1.70V242.5h-1.70zM204.48 216.8h1.70V241.8h-1.70zM207.32 216.1h1.70V241.2h-1.70zM210.16 214.4h1.70V240.3h-1.70zM212.99 213.3h1.70V239.4h-1.70zM215.83 214.7h1.70V240.2h-1.70zM218.67 217.3h1.70V241.9h-1.70zM221.51 223.8h1.70V245.4h-1.70zM224.34 221.7h1.70V244.5h-1.70zM227.18 213.3h1.70V237.5h-1.70zM230.02 212.1h1.70V236.6h-1.70zM232.86 212.1h1.70V235.6h-1.70zM235.70 215.1h1.70V237.4h-1.70zM238.53 211.2h1.70V235.6h-1.70zM241.37 208.1h1.70V233.8h-1.70zM244.21 207.4h1.70V232.9h-1.70zM247.05 206.9h1.70V232h-1.70zM249.89 208.1h1.70V233.7h-1.70zM252.72 216.1h1.70V238.9h-1.70zM255.56 211.6h1.70V235.8h-1.70zM258.40 210.9h1.70V234.7h-1.70zM261.24 211.2h1.70V235.7h-1.70zM264.08 210.9h1.70V234.7h-1.70zM266.92 211.6h1.70V235.1h-1.70zM269.75 212.1h1.70V235.1h-1.70zM272.59 211.2h1.70V235h-1.70zM275.43 215.1h1.70V236.7h-1.70zM278.27 215.1h1.70V236.7h-1.70zM281.11 216.1h1.70V237.9h-1.70zM283.94 213.3h1.70V234.8h-1.70zM286.78 212.1h1.70V233.1h-1.70zM289.62 209.8h1.70V230.7h-1.70zM292.46 211.6h1.70V232h-1.70zM295.30 211.2h1.70V231.9h-1.70zM298.13 211.6h1.70V232.6h-1.70zM300.97 214.4h1.70V234.2h-1.70zM303.81 210.9h1.70V232.3h-1.70zM306.65 210.3h1.70V231.6h-1.70zM309.49 206.9h1.70V229.7h-1.70zM312.32 205.6h1.70V228.4h-1.70zM315.16 202.1h1.70V226.5h-1.70zM318.00 200.4h1.70V225.5h-1.70zM320.84 198.6h1.70V224.5h-1.70zM323.68 191.6h1.70V220.8h-1.70zM326.51 195.5h1.70V223.9h-1.70zM329.35 199.5h1.70V225.8h-1.70zM332.19 203h1.70V226.7h-1.70zM335.03 203.8h1.70V227.3h-1.70zM337.87 203.8h1.70V227.3h-1.70zM340.70 195.1h1.70V222.8h-1.70zM343.54 196.3h1.70V223.8h-1.70zM346.38 197.4h1.70V224.2h-1.70zM349.22 193.4h1.70V222.3h-1.70zM352.06 194.6h1.70V221.2h-1.70zM354.89 194.2h1.70V220.7h-1.70zM357.73 193.4h1.70V220h-1.70zM360.57 194.2h1.70V220.7h-1.70zM363.41 198.6h1.70V222.6h-1.70zM366.25 195.6h1.70V221.3h-1.70zM369.08 191.6h1.70V218.8h-1.70zM371.92 187.6h1.70V216.2h-1.70zM374.76 185.1h1.70V213.2h-1.70zM377.60 181.1h1.70V211h-1.70zM380.44 181.1h1.70V210.8h-1.70zM383.27 179.7h1.70V211.7h-1.70zM386.11 182.9h1.70V214.4h-1.70zM388.95 190.4h1.70V219.7h-1.70zM391.79 181.1h1.70V214.8h-1.70zM394.62 182h1.70V215.9h-1.70zM397.46 188.1h1.70V219.8h-1.70zM400.30 186.4h1.70V219.5h-1.70zM403.14 187.6h1.70V219.9h-1.70zM405.98 190.4h1.70V221.3h-1.70zM408.81 191.6h1.70V221.7h-1.70zM411.65 195.1h1.70V227h-1.70zM414.49 188.1h1.70V223.6h-1.70zM417.33 183.7h1.70V219.2h-1.70zM420.17 190.4h1.70V223.3h-1.70zM423.00 190.4h1.70V222.8h-1.70zM425.84 188.1h1.70V221.1h-1.70zM428.68 189.3h1.70V223.8h-1.70zM431.52 187.6h1.70V223h-1.70zM434.36 185.1h1.70V221.3h-1.70zM437.19 183.4h1.70V219.6h-1.70zM440.03 186.4h1.70V221.5h-1.70zM442.87 189.3h1.70V224.3h-1.70zM445.71 191.6h1.70V226.3h-1.70zM448.55 195.6h1.70V227.9h-1.70zM451.38 196.3h1.70V228.8h-1.70zM454.22 199.8h1.70V231.2h-1.70zM457.06 197.7h1.70V230.2h-1.70zM459.90 199.1h1.70V228.5h-1.70zM462.74 198.6h1.70V231h-1.70zM465.57 201.7h1.70V233.3h-1.70zM468.41 200h1.70V231.7h-1.70zM471.25 199.1h1.70V229.9h-1.70zM474.09 200.8h1.70V229.8h-1.70zM476.93 199.6h1.70V228.2h-1.70zM479.77 192.1h1.70V223.5h-1.70zM482.60 192.6h1.70V222.6h-1.70zM485.44 193h1.70V222h-1.70zM488.28 192.1h1.70V220.7h-1.70zM491.12 192.1h1.70V219.8h-1.70zM493.96 189.5h1.70V217.5h-1.70zM496.79 191.6h1.70V218.7h-1.70zM499.63 193h1.70V216h-1.70zM502.47 188.6h1.70V215.1h-1.70zM505.31 191.2h1.70V217.7h-1.70zM508.15 190.3h1.70V216.2h-1.70zM510.98 189.1h1.70V214.9h-1.70zM513.82 188.6h1.70V214.3h-1.70zM516.66 189.8h1.70V213.8h-1.70zM519.50 188.6h1.70V212.8h-1.70zM522.34 184.2h1.70V209.1h-1.70zM525.17 182.5h1.70V208.1h-1.70zM528.01 179h1.70V205.3h-1.70zM530.85 178.1h1.70V205.2h-1.70zM533.69 176.9h1.70V204.1h-1.70zM536.52 175.5h1.70V202.6h-1.70zM539.36 173.4h1.70V200.3h-1.70zM542.20 166.4h1.70V195.8h-1.70zM545.04 162.2h1.70V193h-1.70zM547.88 165.3h1.70V195.7h-1.70zM550.72 162.2h1.70V194.4h-1.70zM553.55 161.4h1.70V192.7h-1.70zM556.39 170.2h1.70V200.9h-1.70zM559.23 169.4h1.70V200h-1.70zM562.07 169.9h1.70V199.2h-1.70zM564.90 167.1h1.70V197.4h-1.70zM567.74 166.4h1.70V195.7h-1.70zM570.58 172.9h1.70V200.7h-1.70zM573.42 175.1h1.70V201.8h-1.70zM576.26 179.3h1.70V205.6h-1.70zM579.10 178.6h1.70V205.4h-1.70zM581.93 180.4h1.70V206.1h-1.70zM584.77 178.6h1.70V204.2h-1.70zM587.61 170.2h1.70V197h-1.70zM590.45 168.1h1.70V195.3h-1.70zM593.28 162.8h1.70V192.5h-1.70zM596.12 162.8h1.70V192.4h-1.70zM598.96 159.9h1.70V191.2h-1.70zM601.80 158.5h1.70V191.9h-1.70zM604.64 158.1h1.70V188.6h-1.70zM607.48 164.6h1.70V195h-1.70zM610.31 159.3h1.70V192.6h-1.70zM613.15 156.4h1.70V191h-1.70zM615.99 156.4h1.70V189.5h-1.70zM618.83 140.6h1.70V181.9h-1.70zM621.66 141h1.70V179.4h-1.70zM624.50 135.4h1.70V177.6h-1.70zM627.34 132.6h1.70V173.8h-1.70zM630.18 132.6h1.70V172.2h-1.70zM633.02 134.9h1.70V174.9h-1.70zM635.86 132.6h1.70V171.9h-1.70zM638.69 133.1h1.70V169.9h-1.70zM641.53 128.7h1.70V166.5h-1.70zM644.37 126.1h1.70V163.9h-1.70zM647.21 133.6h1.70V170.1h-1.70zM650.05 136.6h1.70V172.9h-1.70zM652.88 134.9h1.70V169.4h-1.70zM655.72 133.1h1.70V166h-1.70zM658.56 130.5h1.70V162.6h-1.70zM661.40 123.5h1.70V159h-1.70zM664.24 127.9h1.70V161.5h-1.70zM667.07 124.4h1.70V154.4h-1.70zM669.91 118.2h1.70V149h-1.70zM672.75 104.9h1.70V139.6h-1.70zM675.59 79.1h1.70V112h-1.70zM678.43 83.5h1.70V112.9h-1.70zM681.26 93.4h1.70V123h-1.70zM684.10 88.7h1.70V119h-1.70zM686.94 79.8h1.70V111.1h-1.70zM689.78 61.6h1.70V90h-1.70zM692.62 73h1.70V101.9h-1.70zM695.45 72.8h1.70V103.2h-1.70zM698.29 121.4h1.70V150.6h-1.70zM701.13 163h1.70V188.4h-1.70zM703.97 108.4h1.70V135.2h-1.70zM706.81 119.1h1.70V145.5h-1.70zM709.64 122.1h1.70V148h-1.70zM712.48 112.9h1.70V141h-1.70zM715.32 123.4h1.70V153h-1.70zM718.16 133.7h1.70V163h-1.70zM721.00 134.9h1.70V164.2h-1.70zM723.83 135.2h1.70V163h-1.70zM726.67 122.8h1.70V151.6h-1.70zM729.51 122h1.70V151.6h-1.70zM732.35 122.8h1.70V152.8h-1.70zM735.19 122.8h1.70V153.4h-1.70zM738.02 125.7h1.70V155.8h-1.70zM740.86 128.2h1.70V158.2h-1.70zM743.70 124h1.70V154.6h-1.70zM746.54 117.4h1.70V149.2h-1.70zM749.38 114.5h1.70V145.6h-1.70zM751.79 104.5h1.15V136h-1.15z"/></g>
<g fill="none" stroke="#111" stroke-width="2.2" stroke-dasharray="8.2 7.66">
<path d="M84.3 261.6H745.5"/><path d="M84.3 300.9H745.5"/></g>
<g class="lb"><text x="461.2" y="277.1">Total Cash Cost (Mine Site + Realization)</text>
<text x="601.2" y="319.3">Mine Site Cash Cost</text></g>
<g class="xl"><text text-anchor="end" transform="translate(82.4 370.5) rotate(-45)">Jan-16</text><text text-anchor="end" transform="translate(119.3 370.5) rotate(-45)">Apr-16</text><text text-anchor="end" transform="translate(156.2 370.5) rotate(-45)">Jul-16</text><text text-anchor="end" transform="translate(193.1 370.5) rotate(-45)">Oct-16</text><text text-anchor="end" transform="translate(230.0 370.5) rotate(-45)">Jan-17</text><text text-anchor="end" transform="translate(266.9 370.5) rotate(-45)">Apr-17</text><text text-anchor="end" transform="translate(303.8 370.5) rotate(-45)">Jul-17</text><text text-anchor="end" transform="translate(340.7 370.5) rotate(-45)">Oct-17</text><text text-anchor="end" transform="translate(377.6 370.5) rotate(-45)">Jan-18</text><text text-anchor="end" transform="translate(414.5 370.5) rotate(-45)">Apr-18</text><text text-anchor="end" transform="translate(451.4 370.5) rotate(-45)">Jul-18</text><text text-anchor="end" transform="translate(488.3 370.5) rotate(-45)">Oct-18</text><text text-anchor="end" transform="translate(525.2 370.5) rotate(-45)">Jan-19</text><text text-anchor="end" transform="translate(562.1 370.5) rotate(-45)">Apr-19</text><text text-anchor="end" transform="translate(599.0 370.5) rotate(-45)">Jul-19</text><text text-anchor="end" transform="translate(635.9 370.5) rotate(-45)">Oct-19</text><text text-anchor="end" transform="translate(672.8 370.5) rotate(-45)">Jan-20</text><text text-anchor="end" transform="translate(709.7 370.5) rotate(-45)">Apr-20</text><text text-anchor="end" transform="translate(746.6 370.5) rotate(-45)">Jul-20</text></g>
<g class="lg"><rect x="73.9" y="432.2" width="8.3" height="8.4" fill="#05F005"/><text x="84.2" y="440.8">Platinum</text><rect x="199.9" y="432.2" width="8.3" height="8.4" fill="#FFFF00"/><text x="209.7" y="440.8">Palladium</text><rect x="332.1" y="432.2" width="8.3" height="8.4" fill="#0030D0"/><text x="342.5" y="440.8">Rhodium</text><rect x="459.3" y="432.2" width="8.3" height="8.4" fill="#FF0000"/><text x="471.0" y="440.8">Gold</text><rect x="555.1" y="432.2" width="8.3" height="8.4" fill="#4DB8FF"/><text x="566.4" y="440.8">Copper</text><rect x="669.1" y="432.2" width="8.3" height="8.4" fill="#008000"/><text x="680.5" y="440.8">Nickel</text></g>
</svg>
</body></html>
